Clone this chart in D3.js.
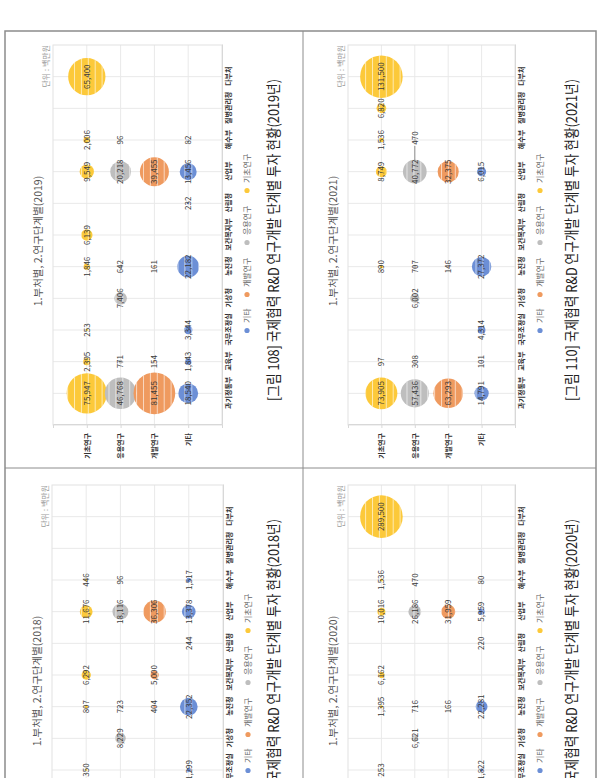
<!DOCTYPE html>
<html><head><meta charset="utf-8">
<script src="https://cdn.jsdelivr.net/npm/d3@7/dist/d3.min.js"></script>
<style>body{margin:0;background:#fff}svg{display:block}text{font-family:"Noto Sans CJK KR","Noto Sans",sans-serif}</style>
</head><body>
<svg id="c" width="602" height="778"></svg>
<script>
// ---------- DATA ----------
const ministries = ["과기정통부","교육부","국무조정실","기상청","농진청","보건복지부","산림청","산업부","해수부","질병관리청","다부처"];
const stages = ["기초연구","응용연구","개발연구","기타"];
const legendOrder = ["기타","개발연구","응용연구","기초연구"];
const stageColors = ["#FCC93A","#BEBEBE","#EF9A5F","#6C8FD6"];
const years = [2018, 2019, 2020, 2021];
const figureNumbers = [107, 108, 109, 110];

// values per ministry (same order as `ministries`), null = no investment / not visible
const basic2018   = [null, null, 350, null, 807, 6292, null, 11676, 446, null, null];
const applied2018 = [null, null, null, 8229, 723, null, null, 18116, 96, null, null];
const develop2018 = [null, null, null, null, 404, 5000, null, 36306, null, null, null];
const other2018   = [null, null, 1299, null, 22352, null, 244, 13378, 1517, null, null];

const basic2019   = [75947, 2395, 253, null, 1846, 6139, null, 9549, 2006, null, 65400];
const applied2019 = [46768, 771, null, 7406, 642, null, null, 20218, 96, null, null];
const develop2019 = [81455, 154, null, null, 161, null, null, 39455, null, null, null];
const other2019   = [18540, 1843, 3344, null, 22182, null, 232, 13456, 82, null, null];

const basic2020   = [null, null, 253, null, 1395, 6162, null, 10016, 1536, null, 289500];
const applied2020 = [null, null, null, 6621, 716, null, null, 26186, 470, null, null];
const develop2020 = [null, null, null, null, 166, null, null, 31959, null, null, null];
const other2020   = [null, null, 1822, null, 22281, null, 220, 5959, 80, null, null];

const basic2021   = [73905, 97, null, null, 890, null, null, 8749, 1536, 6820, 131500];
const applied2021 = [57436, 308, null, 6002, 707, null, null, 40772, 470, null, null];
const develop2021 = [63293, null, null, null, 146, null, null, 32375, null, null, null];
const other2021   = [14791, 101, 4314, null, 27372, null, null, 6015, null, null, null];

const seriesByYear = {
  2018: [basic2018, applied2018, develop2018, other2018],
  2019: [basic2019, applied2019, develop2019, other2019],
  2020: [basic2020, applied2020, develop2020, other2020],
  2021: [basic2021, applied2021, develop2021, other2021]
};

// ---------- LAYOUT (image coordinates of each rotated cell) ----------
const layout = {
  2018: {left: 5,   bottom: 908, vTop: 47, vBot: 218, rPer10k: 5.9},
  2019: {left: 5,   bottom: 468, vTop: 48, vBot: 217, rPer10k: 7.3},
  2020: {left: 303, bottom: 908, vTop: 45, vBot: 212, rPer10k: 3.96},
  2021: {left: 303, bottom: 468, vTop: 45, vBot: 212, rPer10k: 5.87}
};

const svg = d3.select("#c");
const defs = svg.append("defs");
const pat = defs.append("pattern").attr("id","stripes").attr("patternUnits","userSpaceOnUse")
  .attr("width", 20).attr("height", 6.9);
pat.append("rect").attr("x",0).attr("y",0).attr("width",20).attr("height",1).attr("fill","#fff").attr("fill-opacity",0.6);

const fmt = d3.format(",");

years.forEach((year, yi) => {
  const L = layout[year];
  const g = svg.append("g").attr("transform", `translate(${L.left},${L.bottom}) rotate(-90)`);
  const x = d3.scalePoint().domain(ministries).range([43, 423]).padding(1);
  const y = d3.scalePoint().domain(stages).range([L.vTop, L.vBot]).padding(1);
  const r = d3.scaleSqrt().domain([0, 10000]).range([0, L.rPer10k]);
  const color = d3.scaleOrdinal().domain(stages).range(stageColors);

  // grid
  const grid = g.append("g").attr("stroke", "#e9e9e9").attr("stroke-width", 1);
  grid.selectAll("line.v").data(ministries).join("line")
    .attr("x1", d => x(d)).attr("x2", d => x(d)).attr("y1", L.vTop).attr("y2", L.vBot);
  grid.selectAll("line.h").data(stages).join("line")
    .attr("x1", 43).attr("x2", 423).attr("y1", d => y(d)).attr("y2", d => y(d));
  g.append("rect").attr("x", 43).attr("y", L.vTop).attr("width", 380).attr("height", L.vBot - L.vTop)
    .attr("fill", "none").attr("stroke", "#e2e2e2");

  // axes
  const ax = g.append("g").attr("transform", `translate(0,${L.vBot})`)
    .call(d3.axisBottom(x).tickSize(0).tickPadding(4));
  ax.select(".domain").attr("stroke", "#d8d8d8");
  ax.selectAll("text").attr("font-size", 7).attr("font-weight", 700).attr("fill", "#333");
  const ay = g.append("g").attr("transform", `translate(43,0)`)
    .call(d3.axisLeft(y).tickSize(3).tickPadding(5));
  ay.select(".domain").attr("stroke", "#d8d8d8");
  ay.selectAll(".tick line").attr("stroke", "#d8d8d8");
  ay.selectAll("text").attr("font-size", 7).attr("font-weight", 700).attr("fill", "#333");

  // points
  const pts = [];
  seriesByYear[year].forEach((arr, si) => arr.forEach((v, mi) => {
    if (v !== null) pts.push({m: ministries[mi], s: stages[si], v});
  }));
  const pg = g.append("g");
  pg.selectAll("circle.b").data(pts).join("circle")
    .attr("cx", d => x(d.m)).attr("cy", d => y(d.s)).attr("r", d => r(d.v))
    .attr("fill", d => color(d.s));
  pg.selectAll("circle.s").data(pts.filter(d => r(d.v) > 3)).join("circle")
    .attr("cx", d => x(d.m)).attr("cy", d => y(d.s)).attr("r", d => r(d.v))
    .attr("fill", "url(#stripes)");

  // leader line for the crowded label in 2021 (해수부 응용연구)
  if (year === 2021) {
    const big = pts.find(d => d.m === "산업부" && d.s === "응용연구");
    g.append("line")
      .attr("x1", x("산업부") + r(big.v) - 2).attr("x2", x("해수부") - 6)
      .attr("y1", y("응용연구")).attr("y2", y("응용연구"))
      .attr("stroke", "#777").attr("stroke-width", 0.8);
  }

  pg.selectAll("text").data(pts).join("text")
    .attr("x", d => x(d.m) + ((year === 2021 && d.m === "해수부" && d.s === "응용연구") ? 2 : 0))
    .attr("y", d => y(d.s) + 2.8)
    .attr("text-anchor", "middle").attr("font-size", 8).attr("fill", "#3a3a3a")
    .text(d => fmt(d.v));

  // subtitle & unit
  g.append("text").attr("x", 227).attr("y", L.vTop - 11).attr("text-anchor", "middle")
    .attr("font-size", 10.5).attr("fill", "#555").text(`1.부처별, 2.연구단계별(${year})`);
  g.append("text").attr("x", 423).attr("y", L.vTop - 4).attr("text-anchor", "end")
    .attr("font-size", 8).attr("fill", "#9a9a9a").text("단위 : 백만원");

  // legend
  const lg = g.append("g").attr("transform", `translate(0,${L.vBot + 25})`);
  let cx = 0;
  const items = legendOrder.map(s => {
    const w = s.length * 8 + 6;
    const it = {s, x: cx};
    cx += w + 14;
    return it;
  });
  const total = cx - 14;
  const start = 224 - total / 2;
  items.forEach(it => {
    lg.append("circle").attr("cx", start + it.x + 2.5).attr("cy", 0).attr("r", 2.6).attr("fill", color(it.s));
    lg.append("text").attr("x", start + it.x + 10).attr("y", 3).attr("font-size", 8).attr("fill", "#666").text(it.s);
  });

  // figure title
  g.append("text").attr("x", 228).attr("y", 274).attr("text-anchor", "middle")
    .attr("font-size", 14.5).attr("fill", "#222")
    .attr("textLength", 322).attr("lengthAdjust", "spacingAndGlyphs")
    .text(`[그림 ${figureNumbers[yi]}] 국제협력 R&D 연구개발 단계별 투자 현황(${year}년)`);
});

// table frame
const frame = svg.append("g").attr("stroke", "#8c8c8c").attr("fill", "none");
frame.append("rect").attr("x", 5).attr("y", 31).attr("width", 591).attr("height", 800).attr("stroke-width", 1.5);
frame.append("line").attr("x1", 303).attr("x2", 303).attr("y1", 31).attr("y2", 778);
frame.append("line").attr("x1", 5).attr("x2", 596).attr("y1", 468).attr("y2", 468);
</script>
</body></html>
